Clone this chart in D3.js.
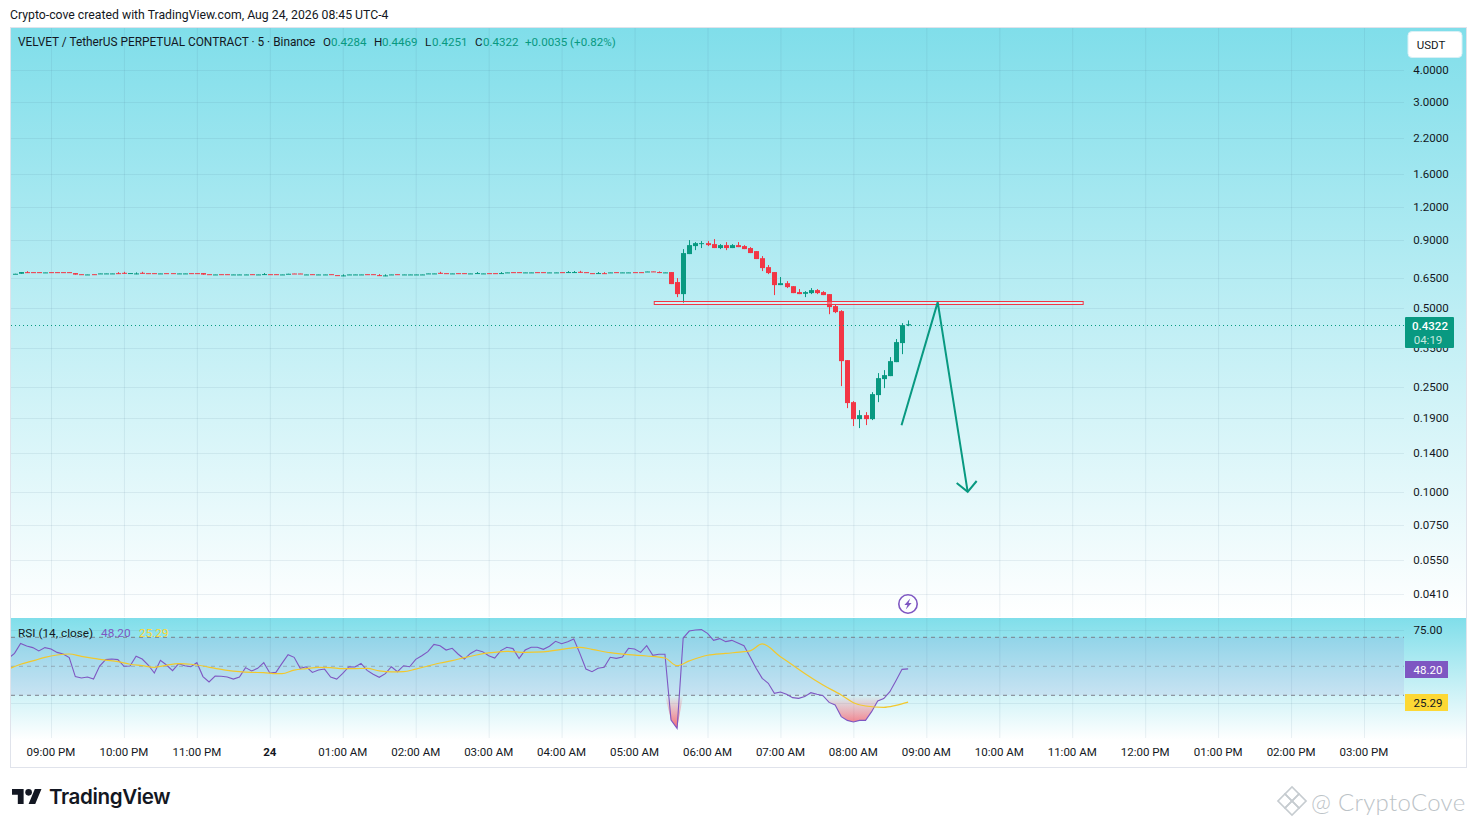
<!DOCTYPE html>
<html><head><meta charset="utf-8">
<script src="https://cdn.jsdelivr.net/npm/d3@7/dist/d3.min.js"></script>
<style>html,body{margin:0;padding:0;background:#fff}svg{display:block}text{font-family:Roboto,sans-serif}</style>
</head><body><div id="c"></div>
<script>
// ---- axis labels ----
const priceTicks=[4,3,2.2,1.6,1.2,0.9,0.65,0.5,0.35,0.25,0.19,0.14,0.1,0.075,0.055,0.041];
const timeTicks=[0,1,2,3,4,5,6,7,8,9,10,11,12,13,14,15,16,17,18];
const timeLabels=["09:00 PM","10:00 PM","11:00 PM","24","01:00 AM","02:00 AM","03:00 AM","04:00 AM","05:00 AM","06:00 AM","07:00 AM","08:00 AM","09:00 AM","10:00 AM","11:00 AM","12:00 PM","01:00 PM","02:00 PM","03:00 PM"];
const rsiTicks=[75];
const rsiBands=[70,50,30];
// ---- quiet period 08:30 PM .. 05:10 AM (hours from 09:00 PM = -0.5 + i/12) ----
const flatClose=[.672,.682,.68,.68,.68,.68,.68,.68,.68,.68,.667,.668,.668,.668,.674,.674,.674,.674,.676,.676,.674,.676,.674,.674,.674,.674,.674,.674,.674,.674,.674,.667,.668,.668,.668,.668,.668,.668,.668,.668,.668,.67,.668,.668,.668,.672,.672,.672,.668,.668,.668,.668,.668,.6625,
.6625,.668,.668,.668,.668,.668,.6625,.6625,.668,.668,.668,.668,.668,.668,.674,.674,.676,.674,.674,.674,.674,.674,.676,.674,.674,.674,.676,.68,.68,.68,.68,.68,.68,.68,.68,.68,.68,.682,.682,.682,.68,.674,.676,.674,.68,.68,.68,.68,.68,.68,.6855];
const flatDir="ggrrrgrrrrrrgrgggrrggrrrgrrggrrrrgrrgggrggrrggrrgrggrr"+"ggggrrrggrggggggrrgrrgggrrggrrggrrggrggrrrgrgrggrrg";
const flatThickOpen={1:.672,10:.676,31:.676};
const flatWicks=[2,17,18,20,21,41,54,60,61,70,76,80,91,92,93,96,97];
// ---- active period 05:15 AM .. 08:45 AM ----
const activeOpen=[.686,.682,.678,.682,.625,.5626,.798,.8556,.8706,.878,.8706,.841,.863,.841,.863,.8556,.841,.819,.77,.712,.682,.6086,.619,.603,.5725,.564,.5675,.5826,.5725,.5626,.5066,.485,.3161,.219,.1888,.1955,.1888,.2329,.2678,.2749,.3106,.3668,.4284];
const activeHigh=[.686,.686,.68,.682,.647,.8335,.9016,.886,.8938,.8938,.9095,.8706,.886,.8706,.886,.863,.848,.819,.784,.725,.682,.653,.63,.603,.588,.5775,.593,.588,.5775,.5626,.5155,.489,.3161,.221,.2042,.2007,.239,.2822,.2897,.3245,.38,.4367,.4469];
const activeLow=[.684,.676,.678,.614,.548,.52,.798,.826,.841,.8556,.841,.8335,.826,.841,.848,.8335,.805,.764,.688,.67,.5577,.6086,.593,.5675,.5626,.548,.5626,.5626,.5577,.472,.4765,.2519,.2078,.1777,.1746,.1792,.1872,.219,.2475,.2749,.3106,.333,.4251];
const activeClose=[.684,.676,.68,.614,.5626,.805,.863,.878,.878,.863,.841,.863,.841,.863,.848,.8335,.805,.764,.706,.676,.6086,.619,.598,.5675,.5626,.5725,.5826,.5675,.5577,.502,.4807,.3133,.2172,.1888,.1955,.1888,.2349,.2701,.2773,.3133,.37,.429,.4322];
// ---- RSI every 5 minutes from 08:25 PM ----
const rsiValues=[55.5,58.9,65.8,64,62.9,60.6,62.9,61.9,59.6,58.5,56,42.9,41.9,42.6,41.2,50.2,54.6,55,54.6,50,50.2,56.9,55,50.9,45.4,54.1,50.9,47,51.8,50.4,49.7,52.5,42.9,39.2,43.3,43.1,42.6,41.2,42.6,49.1,46.8,48.6,52.5,45.4,45.8,52,58,56.2,48.6,49.7,45.8,47.4,48.1,42.6,41.2,45.1,49.7,49.5,52,47.2,44.5,42.4,44.9,49.7,46.3,50.4,49.7,54.8,57.3,60.1,65.1,64.2,61.2,62.4,58.3,55,58.9,61.2,60.1,
57.3,55.7,60.8,63.1,62.2,55.3,61.2,63.1,63.1,61.7,63.8,67.2,65.6,67,68.8,58.9,48.1,46.3,48.6,49.3,56.2,55.5,56.4,62.4,61.9,59.6,64.2,57.6,58.3,58.3,13,7.2,69.5,74.3,75,75.3,72.7,67.9,69.1,67,67.9,66.1,64.2,56.6,48.6,41.7,38.3,31.4,32.3,30.7,28.4,27.9,29.1,31.8,30.7,29.7,25.1,23.3,15.3,12.7,11.6,12.7,12.7,18.7,26.1,27.7,32.5,40.1,47.9,48.2];
// RSI moving average, read at the bar numbers in maBars
const maBars=[0,2,4,6,8,10,12,14,16,18,20,22,24,26,28,30,32,34,36,38,40,42,44,45,47,49,51,53,55,57,59,61,63,65,67,69,71,73,75,77,79,82,85,88,91,94,96,99,102,105,108,110,112,115,118,121,122,124,127,129,131,134,137,139,141,144,146,148];
const maValues=[48.1,51.4,53.7,56.2,57.8,58.5,56.9,55.5,54.3,53.2,51.4,50.4,49.3,50.7,51.8,51.4,50.2,48.6,47.2,46.3,45.8,45.6,44.9,44.9,47.4,48.4,49.3,49.1,48.4,48.4,48.6,46.8,46.1,46.3,48.1,50.2,52.3,53.9,56,57.8,59.2,60.3,59.6,59.9,61.7,63.1,61.7,59.4,58,57.1,55.7,50.4,53.7,57.6,58.9,60.1,60.6,65.4,56.6,50.9,45.1,37.1,30.2,24.9,22.6,21.7,23.1,25.29];
// ---- drawings (hours from 09:00 PM, price) ----
const levelBox={h0:8.27,h1:14.15,top:.5287,bottom:.5166};
const arrowHours=[11.66,12.156,12.567];
const arrowPrices=[.179,.5246,.1];
const arrowHeadHours=[12.416,12.567,12.69];
const arrowHeadPrices=[.108,.1,.11];
const lastPrice=0.4322;

const UP="#089981",DOWN="#f23645",PURPLE="#7e57c2",YELLOW="#fdd835",TXT="#131722",GRID="rgba(70,110,135,.10)";
const L=11,R=1404,EDGE=1466;
const x=d3.scaleLinear().domain([0,18]).range([51,1364]);
const y=d3.scaleLog().domain([4,0.041]).range([69.5,594]);
const yR=d3.scaleLinear().domain([70,30]).range([637.3,695.3]);
const barH=i=>-0.5+i/12;     // candles start 08:30 PM
const rsiH=i=>(-35+i*5)/60;  // RSI starts 08:25 PM

const svg=d3.select("#c").append("svg").attr("width",1476).attr("height",827);
const defs=svg.append("defs");
function vgrad(id,y1,y2,stops){const g=defs.append("linearGradient").attr("id",id).attr("gradientUnits","userSpaceOnUse").attr("x1",0).attr("x2",0).attr("y1",y1).attr("y2",y2);
 stops.forEach(s=>g.append("stop").attr("offset",s[0]).attr("stop-color",s[1]).attr("stop-opacity",s[2]==null?1:s[2]));}
vgrad("bgMain",28,617,[[0,"#80deea"],[1,"#ffffff"]]);
vgrad("bgRsi",618,740,[[0,"#80deea"],[1,"#ffffff"]]);
vgrad("os",yR(30),yR(8),[[0,"#f23645",0],[.25,"#f7525f",.22],[1,"#f23645",.72]]);
defs.append("clipPath").attr("id","clip").append("rect").attr("x",L).attr("y",28).attr("width",R-L).attr("height",710);

svg.append("text").attr("x",10).attr("y",19).attr("font-size",12.25).attr("fill",TXT).text("Crypto-cove created with TradingView.com, Aug 24, 2026 08:45 UTC-4");
// panes
svg.append("rect").attr("x",10.5).attr("y",27.5).attr("width",1456).attr("height",740).attr("fill","#fff").attr("stroke","#e0e3eb");
svg.append("rect").attr("x",11).attr("y",28).attr("width",EDGE-11).attr("height",589).attr("fill","url(#bgMain)");
svg.append("rect").attr("x",11).attr("y",618).attr("width",EDGE-11).attr("height",122).attr("fill","url(#bgRsi)");
// grid
const g=svg.append("g");
timeTicks.forEach(t=>{g.append("line").attr("x1",x(t)+.5).attr("x2",x(t)+.5).attr("y1",28).attr("y2",617).attr("stroke",GRID);
 g.append("line").attr("x1",x(t)+.5).attr("x2",x(t)+.5).attr("y1",618).attr("y2",738).attr("stroke",GRID);});
priceTicks.forEach(p=>g.append("line").attr("x1",L).attr("x2",R).attr("y1",Math.round(y(p))+.5).attr("y2",Math.round(y(p))+.5).attr("stroke",GRID));
[75,25].forEach(v=>g.append("line").attr("x1",L).attr("x2",R).attr("y1",Math.round(yR(v))+.5).attr("y2",Math.round(yR(v))+.5).attr("stroke",GRID));

// candles
const candles=[];
flatClose.forEach((c,i)=>{const up=flatDir[i]==="g";const o=flatThickOpen[i]!=null?flatThickOpen[i]:(up?c-.0015:c+.0015);
 const w=flatWicks.includes(i);candles.push({h:barH(i),o,c,hi:Math.max(o,c)+(w?.006:0),lo:Math.min(o,c)-(w?.003:0)});});
activeOpen.forEach((o,i)=>candles.push({h:barH(flatClose.length+i),o,c:activeClose[i],hi:activeHigh[i],lo:activeLow[i]}));
const cg=svg.append("g").attr("clip-path","url(#clip)");
const col=d=>d.c>=d.o?UP:DOWN;
cg.selectAll("line.w").data(candles).join("line").attr("class","w")
 .attr("x1",d=>Math.round(x(d.h))+.5).attr("x2",d=>Math.round(x(d.h))+.5).attr("y1",d=>y(d.hi)).attr("y2",d=>y(d.lo)).attr("stroke",col);
cg.selectAll("rect.b").data(candles).join("rect").attr("class","b")
 .attr("x",d=>Math.round(x(d.h))-2).attr("width",5)
 .attr("y",d=>y(Math.max(d.o,d.c))).attr("height",d=>Math.max(1,Math.abs(y(d.o)-y(d.c)))).attr("fill",col);

// last price line
svg.append("line").attr("x1",L).attr("x2",R).attr("y1",325.5).attr("y2",325.5).attr("stroke",UP).attr("stroke-dasharray","1 3");

// level box
svg.append("rect").attr("x",x(levelBox.h0)).attr("width",x(levelBox.h1)-x(levelBox.h0)).attr("y",Math.round(y(levelBox.top))+.5).attr("height",3)
 .attr("fill","rgba(255,255,255,.3)").attr("stroke",DOWN).attr("stroke-width",1);
// arrow
const ln=d3.line().x(d=>x(d[0])).y(d=>y(d[1]));
svg.append("path").attr("d",ln(d3.zip(arrowHours,arrowPrices))).attr("fill","none").attr("stroke",UP).attr("stroke-width",2);
svg.append("path").attr("d",ln(d3.zip(arrowHeadHours,arrowHeadPrices))).attr("fill","none").attr("stroke",UP).attr("stroke-width",2);

// bolt icon
const b=svg.append("g").attr("transform","translate(908,604)");
b.append("circle").attr("r",9.2).attr("fill","none").attr("stroke",PURPLE).attr("stroke-width",1.6);
b.append("path").attr("d","M2.2,-5.5 L-3.6,1 L-0.6,1 L-2.2,5.5 L3.6,-1 L0.6,-1 Z").attr("fill",PURPLE);

// RSI pane
svg.append("rect").attr("x",L).attr("width",R-L).attr("y",yR(70)).attr("height",yR(30)-yR(70)).attr("fill","rgba(126,87,194,.1)");
rsiBands.forEach(v=>svg.append("line").attr("x1",L).attr("x2",R).attr("y1",yR(v)).attr("y2",yR(v)).attr("stroke","#787b86").attr("stroke-opacity",v===50?.5:.95).attr("stroke-dasharray","4 4"));
const rg=svg.append("g").attr("clip-path","url(#clip)");
rg.append("path").attr("fill","url(#os)").attr("d",d3.area().x((d,i)=>x(rsiH(i))).y0(yR(30)).y1(d=>yR(Math.min(d,30)))(rsiValues));
rg.append("path").attr("fill","none").attr("stroke",PURPLE).attr("stroke-width",1.1).attr("d",d3.line().x((d,i)=>x(rsiH(i))).y(d=>yR(d))(rsiValues));
rg.append("path").attr("fill","none").attr("stroke","#f2c82c").attr("stroke-width",1.2).attr("d",d3.line().curve(d3.curveMonotoneX).x(d=>x(rsiH(d[0]))).y(d=>yR(d[1]))(d3.zip(maBars,maValues)));

// price axis
priceTicks.forEach(p=>svg.append("text").attr("x",1431).attr("y",y(p)+4).attr("text-anchor","middle").attr("font-size",11.5).attr("fill",TXT).text(d3.format(".4f")(p)));
rsiTicks.forEach(v=>svg.append("text").attr("x",1428).attr("y",yR(v)+4).attr("text-anchor","middle").attr("font-size",11.5).attr("fill",TXT).text(d3.format(".2f")(v)));
svg.append("rect").attr("x",1408).attr("y",31.5).attr("width",54).attr("height",26).attr("rx",4).attr("fill","#fff").attr("stroke","#d8f0f5");
svg.append("text").attr("x",1431).attr("y",49).attr("text-anchor","middle").attr("font-size",11.5).attr("fill",TXT).text("USDT");
svg.append("rect").attr("x",1405).attr("y",317).attr("width",49).attr("height",31).attr("rx",1).attr("fill",UP);
svg.append("text").attr("x",1430).attr("y",330).attr("text-anchor","middle").attr("font-size",11.5).attr("font-weight",500).attr("fill","#fff").text(d3.format(".4f")(lastPrice));
svg.append("text").attr("x",1428).attr("y",344).attr("text-anchor","middle").attr("font-size",11.5).attr("fill","#c4e8df").text("04:19");
svg.append("rect").attr("x",1405).attr("y",661).attr("width",43).attr("height",17).attr("fill",PURPLE);
svg.append("text").attr("x",1428).attr("y",674).attr("text-anchor","middle").attr("font-size",11.5).attr("fill","#fff").text("48.20");
svg.append("rect").attr("x",1405).attr("y",694).attr("width",43).attr("height",17).attr("fill",YELLOW);
svg.append("text").attr("x",1428).attr("y",707).attr("text-anchor","middle").attr("font-size",11.5).attr("fill",TXT).text("25.29");

// time axis
timeTicks.forEach((t,i)=>svg.append("text").attr("x",x(t)).attr("y",756).attr("text-anchor","middle").attr("font-size",11.5).attr("font-weight",timeLabels[i]==="24"?700:400).attr("fill",TXT).text(timeLabels[i]));

// legends
function seq(yy,fs,items){items.forEach(it=>svg.append("text").attr("x",it[0]).attr("y",yy).attr("font-size",fs).attr("fill",it[2]).text(it[1]));}
seq(46,11.85,[[18,"VELVET / TetherUS PERPETUAL CONTRACT · 5 · Binance",TXT]]);
seq(46,11.6,[[323,"O",TXT],[331,"0.4284",UP],[374,"H",TXT],[382,"0.4469",UP],[425,"L",TXT],[432,"0.4251",UP],[475,"C",TXT],[483,"0.4322",UP],[525,"+0.0035 (+0.82%)",UP]]);
seq(637,11.8,[[18,"RSI (14, close)",TXT],[101,"48.20",PURPLE],[139,"25.29",YELLOW]]);

// footer
svg.append("path").attr("transform","translate(12,785.7) scale(.83)").attr("fill","#131722").attr("d","M14 22H7V11H0V4h14v18zM28 22h-8l7.5-18h8L28 22z");
svg.append("circle").attr("cx",12+20*.83).attr("cy",785.7+8*.83).attr("r",4*.83).attr("fill","#131722");
svg.append("text").attr("x",49).attr("y",804).attr("font-size",20.6).attr("font-weight",600).style("font-family","Inter,Roboto,sans-serif").attr("letter-spacing","-0.4").attr("fill","#131722").text("TradingView");
// watermark
const wm=svg.append("g").attr("fill","none").attr("stroke","#c6ccd0").attr("stroke-width",1.6);
[[1292,794,5],[1285,801,5],[1299,801,5],[1292,808,5]].forEach(d=>wm.append("rect").attr("x",d[0]-d[2]).attr("y",d[1]-d[2]).attr("width",2*d[2]).attr("height",2*d[2]).attr("transform",`rotate(45 ${d[0]} ${d[1]})`));
svg.append("text").attr("x",1311).attr("y",811).attr("font-size",24).attr("font-weight",300).style("font-family","Lato,Roboto,sans-serif").attr("fill","#bcc3c7").attr("letter-spacing","0.3").text("@ CryptoCove");
</script></body></html>
